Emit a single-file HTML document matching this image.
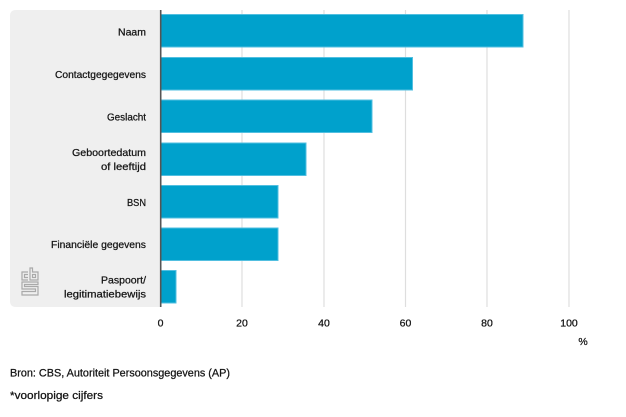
<!DOCTYPE html>
<html>
<head>
<meta charset="utf-8">
<style>
  html, body { margin: 0; padding: 0; background: #ffffff; }
  body { width: 626px; height: 417px; overflow: hidden; }
  svg { display: block; }
  text { font-family: "Liberation Sans", "DejaVu Sans", sans-serif; fill: #141414; stroke: #141414; stroke-width: 0.25; }
</style>
</head>
<body>
<svg width="626" height="417" viewBox="0 0 626 417" xmlns="http://www.w3.org/2000/svg">
  <path d="M16,10 H160 V307 H16 Q10,307 10,301 V16 Q10,10 16,10 Z" fill="#efefef"/>

  <g stroke="#dedede" stroke-width="1.2">
    <line x1="242" y1="10" x2="242" y2="307"/>
    <line x1="324" y1="10" x2="324" y2="307"/>
    <line x1="405.5" y1="10" x2="405.5" y2="307"/>
    <line x1="487" y1="10" x2="487" y2="307"/>
    <line x1="569" y1="10" x2="569" y2="307"/>
  </g>

  <g fill="#00a1cc" stroke="#52bfe0" stroke-width="1">
    <rect x="161" y="14.5" width="362" height="32.5"/>
    <rect x="161" y="57.5" width="251.5" height="32.5"/>
    <rect x="161" y="100" width="211" height="32.5"/>
    <rect x="161" y="143" width="145" height="32.5"/>
    <rect x="161" y="185.5" width="117" height="32.5"/>
    <rect x="161" y="228" width="117" height="32.5"/>
    <rect x="161" y="270.5" width="15" height="32.5"/>
  </g>

  <line x1="160.7" y1="10" x2="160.7" y2="307" stroke="#555555" stroke-width="1.6"/>

  <g font-size="10.5" text-anchor="end" dominant-baseline="central">
    <text x="146" y="32.5" textLength="28" lengthAdjust="spacingAndGlyphs">Naam</text>
    <text x="146" y="75" textLength="91" lengthAdjust="spacingAndGlyphs">Contactgegegevens</text>
    <text x="146" y="117.5" textLength="39" lengthAdjust="spacingAndGlyphs">Geslacht</text>
    <text x="146" y="153" textLength="74" lengthAdjust="spacingAndGlyphs">Geboortedatum</text>
    <text x="146" y="167" textLength="45" lengthAdjust="spacingAndGlyphs">of leeftijd</text>
    <text x="146" y="203" textLength="19" lengthAdjust="spacingAndGlyphs">BSN</text>
    <text x="146" y="245" textLength="95" lengthAdjust="spacingAndGlyphs">Financiële gegevens</text>
    <text x="146" y="280.5" textLength="45" lengthAdjust="spacingAndGlyphs">Paspoort/</text>
    <text x="146" y="294.5" textLength="82" lengthAdjust="spacingAndGlyphs">legitimatiebewijs</text>
  </g>

  <g fill="none" stroke="#a9a9a9" stroke-width="1.2">
    <path d="M28,272 H22 V280 H28"/>
    <path d="M28,274.5 H24.5 V277.5 H28"/>
    <path d="M30,268 V280 H38 V272 H32.5 V268 Z"/>
    <rect x="32.5" y="274.5" width="3" height="3"/>
    <path d="M38,282 H22 V289 H35.5 V291.5 H22 V295 H38 V286.5 H24.5 V284.5 H38 Z"/>
  </g>

  <g font-size="10.5" text-anchor="middle" dominant-baseline="central">
    <text x="160.5" y="323.5">0</text>
    <text x="242" y="323.5">20</text>
    <text x="324" y="323.5">40</text>
    <text x="405.5" y="323.5">60</text>
    <text x="487" y="323.5">80</text>
    <text x="569" y="323.5">100</text>
    <text x="583" y="342">%</text>
  </g>

  <g font-size="10.8" dominant-baseline="central">
    <text x="10" y="373.5" textLength="220" lengthAdjust="spacingAndGlyphs">Bron: CBS, Autoriteit Persoonsgegevens (AP)</text>
    <text x="10" y="396" textLength="93" lengthAdjust="spacingAndGlyphs">*voorlopige cijfers</text>
  </g>
</svg>
</body>
</html>
